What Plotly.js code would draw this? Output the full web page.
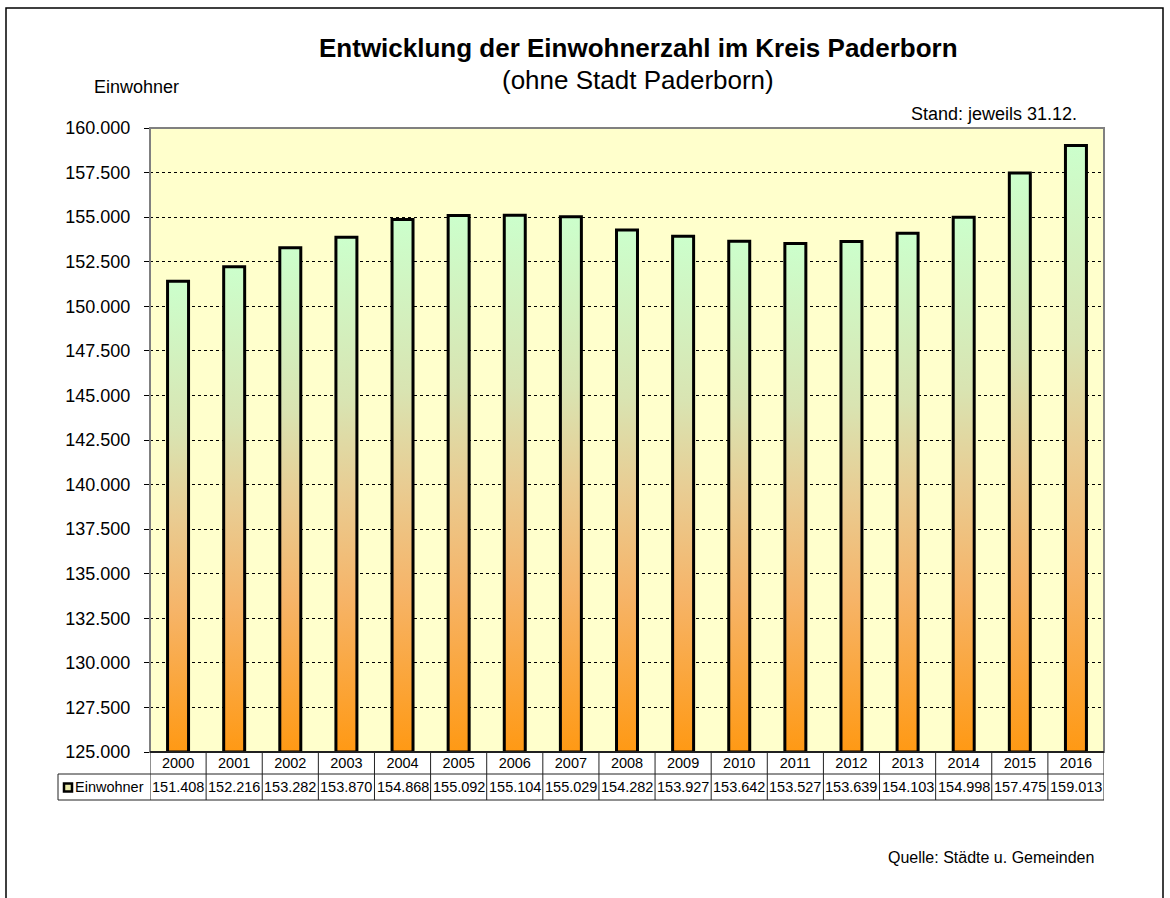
<!DOCTYPE html>
<html>
<head>
<meta charset="utf-8">
<script src="https://cdn.plot.ly/plotly-3.0.1.min.js"></script>
<style>
  html, body { margin: 0; padding: 0; background: #fff; }
  #chart { width: 1170px; height: 898px; }
</style>
</head>
<body>
<div id="chart"></div>
<script>
// Daten
const years = ['2000', '2001', '2002', '2003', '2004', '2005', '2006', '2007', '2008',
  '2009', '2010', '2011', '2012', '2013', '2014', '2015', '2016'];
const einwohner = [151408, 152216, 153282, 153870, 154868, 155092, 155104, 155029, 154282,
  153927, 153642, 153527, 153639, 154103, 154998, 157475, 159013];
const yMin = 125000;
const yMax = 160000;
const yStep = 2500;

const FONT = 'Arial, "Liberation Sans", sans-serif';

// Plotbereich in Pixeln (fuer Texte und Tabelle ausserhalb)
const L = 150, R = 1104, T = 128, B = 752;
function px(x) { return (x - L) / (R - L); }
function py(y) { return (B - y) / (B - T); }

function fmt(n) {
  return String(n).replace(/\B(?=(\d{3})+(?!\d))/g, '.');
}

// Balken mit Farbverlauf (gruen oben, orange unten)
const half = 0.187;
let traces = [];
einwohner.forEach(function (v, i) {
  traces.push({
    type: 'scatter',
    mode: 'lines',
    x: [i - half, i - half, i + half, i + half, i - half],
    y: [yMin, v, v, yMin, yMin],
    fill: 'toself',
    fillgradient: {
      type: 'vertical',
      colorscale: [[0, '#FF9914'], [0.3, '#F6B468'], [0.5, '#E9CC92'], [0.68, '#D9E4B2'], [1, '#CCFFCC']]
    },
    line: { color: '#000', width: 3 },
    hoverinfo: 'skip',
    showlegend: false
  });
});

// Tabelle unter dem Diagramm
let shapes = [];
const lineCol = '#222';
// Rahmen Plotbereich
shapes.push({ type: 'rect', xref: 'paper', yref: 'paper', x0: 0, x1: 1, y0: 0, y1: 1,
  line: { color: '#808080', width: 2 }, layer: 'above' });
// Aeusserer Rahmen
shapes.push({ type: 'rect', xref: 'paper', yref: 'paper', x0: px(6), x1: px(1163), y0: py(910), y1: py(8),
  line: { color: '#000', width: 1.5 }, layer: 'below' });
// Achsenlinie / Tabellenoberkante
shapes.push({ type: 'line', xref: 'paper', yref: 'paper', x0: 0, x1: 1, y0: 0, y1: 0,
  line: { color: '#000', width: 1.5 }, layer: 'above' });
// horizontale Linien
shapes.push({ type: 'line', xref: 'paper', yref: 'paper', x0: px(58), x1: 1, y0: py(774), y1: py(774),
  line: { color: lineCol, width: 1 } });
shapes.push({ type: 'line', xref: 'paper', yref: 'paper', x0: px(58), x1: 1, y0: py(800), y1: py(800),
  line: { color: lineCol, width: 1 } });
shapes.push({ type: 'line', xref: 'paper', yref: 'paper', x0: px(58), x1: px(58), y0: py(774), y1: py(800),
  line: { color: lineCol, width: 1 } });
// vertikale Linien zwischen den Jahren
for (let i = 0; i <= years.length; i++) {
  shapes.push({ type: 'line', xref: 'x', yref: 'paper', x0: i - 0.5, x1: i - 0.5, y0: py(752), y1: py(800),
    line: { color: lineCol, width: 1 } });
}
// Legendensymbol
shapes.push({ type: 'rect', xref: 'paper', yref: 'paper', x0: px(64), x1: px(72), y0: py(791.5), y1: py(783.5),
  fillcolor: '#E8E8A8', line: { color: '#000', width: 2.5 } });

let annotations = [
  { text: '<b>Entwicklung der Einwohnerzahl im Kreis Paderborn</b>', xref: 'paper', yref: 'paper',
    x: px(638), y: py(48), xanchor: 'center', yanchor: 'middle', showarrow: false,
    font: { family: FONT, size: 26, color: '#000' } },
  { text: '(ohne Stadt Paderborn)', xref: 'paper', yref: 'paper',
    x: px(638), y: py(80), xanchor: 'center', yanchor: 'middle', showarrow: false,
    font: { family: FONT, size: 26, color: '#000' } },
  { text: 'Einwohner', xref: 'paper', yref: 'paper',
    x: px(92), y: py(87), xanchor: 'left', yanchor: 'middle', showarrow: false,
    font: { family: FONT, size: 18, color: '#000' } },
  { text: 'Stand: jeweils 31.12.', xref: 'paper', yref: 'paper',
    x: px(1079), y: py(114), xanchor: 'right', yanchor: 'middle', showarrow: false,
    font: { family: FONT, size: 18, color: '#000' } },
  { text: 'Quelle: Städte u. Gemeinden', xref: 'paper', yref: 'paper',
    x: px(1096), y: py(857), xanchor: 'right', yanchor: 'middle', showarrow: false,
    font: { family: FONT, size: 16, color: '#000' } },
  { text: 'Einwohner', xref: 'paper', yref: 'paper',
    x: px(73), y: py(787), xanchor: 'left', yanchor: 'middle', showarrow: false,
    font: { family: FONT, size: 14.5, color: '#000' } }
];
einwohner.forEach(function (v, i) {
  annotations.push({ text: fmt(v), xref: 'x', yref: 'paper', x: i, y: py(787),
    xanchor: 'center', yanchor: 'middle', showarrow: false,
    font: { family: FONT, size: 14.5, color: '#000' } });
});

const layout = {
  width: 1170,
  height: 898,
  margin: { l: L, r: 1170 - R, t: T, b: 898 - B, pad: 0 },
  paper_bgcolor: '#ffffff',
  plot_bgcolor: '#FFFFCC',
  separators: ',.',
  font: { family: FONT, color: '#000' },
  showlegend: false,
  xaxis: {
    type: 'linear',
    range: [-0.5, years.length - 0.5],
    tickvals: years.map(function (y, i) { return i; }),
    ticktext: years,
    showgrid: false,
    zeroline: false,
    showline: false,
    ticks: '',
    tickfont: { family: FONT, size: 14.5, color: '#000' },
    fixedrange: true
  },
  yaxis: {
    range: [yMin, yMax],
    tick0: yMin,
    dtick: yStep,
    tickformat: ',d',
    showgrid: true,
    gridcolor: '#000',
    griddash: 'dot',
    gridwidth: 1,
    zeroline: false,
    showline: false,
    ticks: 'outside',
    ticklen: 5,
    tickcolor: '#000',
    ticklabelstandoff: 10,
    tickfont: { family: FONT, size: 18, color: '#000' },
    fixedrange: true
  },
  shapes: shapes,
  annotations: annotations
};

Plotly.newPlot('chart', traces, layout, { displayModeBar: false, staticPlot: true });
</script>
</body>
</html>
